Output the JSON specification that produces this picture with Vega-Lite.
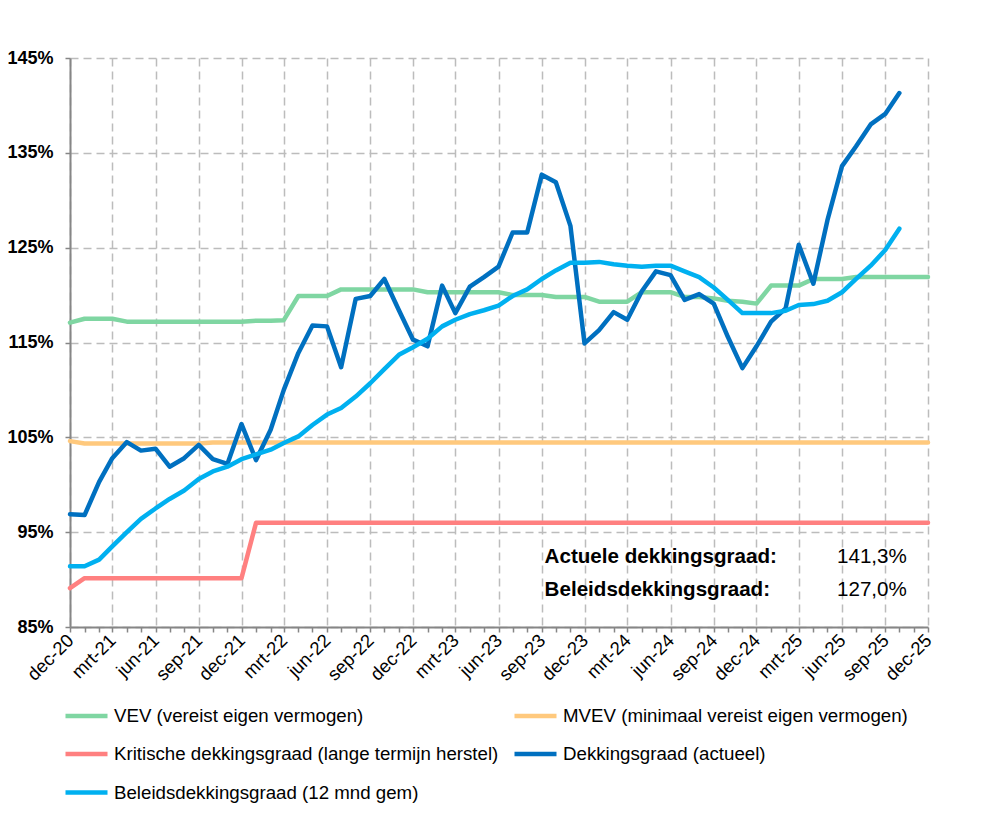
{
  "$schema": "https://vega.github.io/schema/vega-lite/v6.json",
  "width": 858,
  "height": 569,
  "autosize": {"type": "none"},
  "padding": {"left": 70, "top": 58, "right": 71, "bottom": 187},
  "background": "white",
  "config": {"font": "Liberation Sans", "view": {"stroke": null}},
  "datasets": {
    "reeksen": [
      {"maand": "2020-12-01", "VEV (vereist eigen vermogen)": 117.1, "MVEV (minimaal vereist eigen vermogen)": 104.6, "Kritische dekkingsgraad (lange termijn herstel)": 89.1, "Dekkingsgraad (actueel)": 96.9, "Beleidsdekkingsgraad (12 mnd gem)": 91.4},
      {"maand": "2021-01-01", "VEV (vereist eigen vermogen)": 117.5, "MVEV (minimaal vereist eigen vermogen)": 104.35, "Kritische dekkingsgraad (lange termijn herstel)": 90.15, "Dekkingsgraad (actueel)": 96.8, "Beleidsdekkingsgraad (12 mnd gem)": 91.4},
      {"maand": "2021-02-01", "VEV (vereist eigen vermogen)": 117.5, "MVEV (minimaal vereist eigen vermogen)": 104.35, "Kritische dekkingsgraad (lange termijn herstel)": 90.15, "Dekkingsgraad (actueel)": 100.3, "Beleidsdekkingsgraad (12 mnd gem)": 92.1},
      {"maand": "2021-03-01", "VEV (vereist eigen vermogen)": 117.5, "MVEV (minimaal vereist eigen vermogen)": 104.35, "Kritische dekkingsgraad (lange termijn herstel)": 90.15, "Dekkingsgraad (actueel)": 102.8, "Beleidsdekkingsgraad (12 mnd gem)": 93.5},
      {"maand": "2021-04-01", "VEV (vereist eigen vermogen)": 117.2, "MVEV (minimaal vereist eigen vermogen)": 104.35, "Kritische dekkingsgraad (lange termijn herstel)": 90.15, "Dekkingsgraad (actueel)": 104.5, "Beleidsdekkingsgraad (12 mnd gem)": 95.0},
      {"maand": "2021-05-01", "VEV (vereist eigen vermogen)": 117.2, "MVEV (minimaal vereist eigen vermogen)": 104.35, "Kritische dekkingsgraad (lange termijn herstel)": 90.15, "Dekkingsgraad (actueel)": 103.6, "Beleidsdekkingsgraad (12 mnd gem)": 96.4},
      {"maand": "2021-06-01", "VEV (vereist eigen vermogen)": 117.2, "MVEV (minimaal vereist eigen vermogen)": 104.35, "Kritische dekkingsgraad (lange termijn herstel)": 90.15, "Dekkingsgraad (actueel)": 103.8, "Beleidsdekkingsgraad (12 mnd gem)": 97.5},
      {"maand": "2021-07-01", "VEV (vereist eigen vermogen)": 117.2, "MVEV (minimaal vereist eigen vermogen)": 104.35, "Kritische dekkingsgraad (lange termijn herstel)": 90.15, "Dekkingsgraad (actueel)": 101.9, "Beleidsdekkingsgraad (12 mnd gem)": 98.5},
      {"maand": "2021-08-01", "VEV (vereist eigen vermogen)": 117.2, "MVEV (minimaal vereist eigen vermogen)": 104.35, "Kritische dekkingsgraad (lange termijn herstel)": 90.15, "Dekkingsgraad (actueel)": 102.8, "Beleidsdekkingsgraad (12 mnd gem)": 99.4},
      {"maand": "2021-09-01", "VEV (vereist eigen vermogen)": 117.2, "MVEV (minimaal vereist eigen vermogen)": 104.35, "Kritische dekkingsgraad (lange termijn herstel)": 90.15, "Dekkingsgraad (actueel)": 104.2, "Beleidsdekkingsgraad (12 mnd gem)": 100.6},
      {"maand": "2021-10-01", "VEV (vereist eigen vermogen)": 117.2, "MVEV (minimaal vereist eigen vermogen)": 104.45, "Kritische dekkingsgraad (lange termijn herstel)": 90.15, "Dekkingsgraad (actueel)": 102.7, "Beleidsdekkingsgraad (12 mnd gem)": 101.4},
      {"maand": "2021-11-01", "VEV (vereist eigen vermogen)": 117.2, "MVEV (minimaal vereist eigen vermogen)": 104.45, "Kritische dekkingsgraad (lange termijn herstel)": 90.15, "Dekkingsgraad (actueel)": 102.2, "Beleidsdekkingsgraad (12 mnd gem)": 101.9},
      {"maand": "2021-12-01", "VEV (vereist eigen vermogen)": 117.2, "MVEV (minimaal vereist eigen vermogen)": 104.45, "Kritische dekkingsgraad (lange termijn herstel)": 90.15, "Dekkingsgraad (actueel)": 106.4, "Beleidsdekkingsgraad (12 mnd gem)": 102.7},
      {"maand": "2022-01-01", "VEV (vereist eigen vermogen)": 117.3, "MVEV (minimaal vereist eigen vermogen)": 104.45, "Kritische dekkingsgraad (lange termijn herstel)": 96.0, "Dekkingsgraad (actueel)": 102.6, "Beleidsdekkingsgraad (12 mnd gem)": 103.2},
      {"maand": "2022-02-01", "VEV (vereist eigen vermogen)": 117.3, "MVEV (minimaal vereist eigen vermogen)": 104.45, "Kritische dekkingsgraad (lange termijn herstel)": 96.0, "Dekkingsgraad (actueel)": 105.8, "Beleidsdekkingsgraad (12 mnd gem)": 103.7},
      {"maand": "2022-03-01", "VEV (vereist eigen vermogen)": 117.35, "MVEV (minimaal vereist eigen vermogen)": 104.45, "Kritische dekkingsgraad (lange termijn herstel)": 96.0, "Dekkingsgraad (actueel)": 110.0, "Beleidsdekkingsgraad (12 mnd gem)": 104.4},
      {"maand": "2022-04-01", "VEV (vereist eigen vermogen)": 119.9, "MVEV (minimaal vereist eigen vermogen)": 104.45, "Kritische dekkingsgraad (lange termijn herstel)": 96.0, "Dekkingsgraad (actueel)": 113.9, "Beleidsdekkingsgraad (12 mnd gem)": 105.1},
      {"maand": "2022-05-01", "VEV (vereist eigen vermogen)": 119.9, "MVEV (minimaal vereist eigen vermogen)": 104.45, "Kritische dekkingsgraad (lange termijn herstel)": 96.0, "Dekkingsgraad (actueel)": 116.8, "Beleidsdekkingsgraad (12 mnd gem)": 106.3},
      {"maand": "2022-06-01", "VEV (vereist eigen vermogen)": 119.9, "MVEV (minimaal vereist eigen vermogen)": 104.45, "Kritische dekkingsgraad (lange termijn herstel)": 96.0, "Dekkingsgraad (actueel)": 116.7, "Beleidsdekkingsgraad (12 mnd gem)": 107.4},
      {"maand": "2022-07-01", "VEV (vereist eigen vermogen)": 120.6, "MVEV (minimaal vereist eigen vermogen)": 104.45, "Kritische dekkingsgraad (lange termijn herstel)": 96.0, "Dekkingsgraad (actueel)": 112.4, "Beleidsdekkingsgraad (12 mnd gem)": 108.1},
      {"maand": "2022-08-01", "VEV (vereist eigen vermogen)": 120.6, "MVEV (minimaal vereist eigen vermogen)": 104.45, "Kritische dekkingsgraad (lange termijn herstel)": 96.0, "Dekkingsgraad (actueel)": 119.6, "Beleidsdekkingsgraad (12 mnd gem)": 109.3},
      {"maand": "2022-09-01", "VEV (vereist eigen vermogen)": 120.6, "MVEV (minimaal vereist eigen vermogen)": 104.45, "Kritische dekkingsgraad (lange termijn herstel)": 96.0, "Dekkingsgraad (actueel)": 119.9, "Beleidsdekkingsgraad (12 mnd gem)": 110.7},
      {"maand": "2022-10-01", "VEV (vereist eigen vermogen)": 120.6, "MVEV (minimaal vereist eigen vermogen)": 104.45, "Kritische dekkingsgraad (lange termijn herstel)": 96.0, "Dekkingsgraad (actueel)": 121.7, "Beleidsdekkingsgraad (12 mnd gem)": 112.2},
      {"maand": "2022-11-01", "VEV (vereist eigen vermogen)": 120.6, "MVEV (minimaal vereist eigen vermogen)": 104.45, "Kritische dekkingsgraad (lange termijn herstel)": 96.0, "Dekkingsgraad (actueel)": 118.4, "Beleidsdekkingsgraad (12 mnd gem)": 113.7},
      {"maand": "2022-12-01", "VEV (vereist eigen vermogen)": 120.6, "MVEV (minimaal vereist eigen vermogen)": 104.45, "Kritische dekkingsgraad (lange termijn herstel)": 96.0, "Dekkingsgraad (actueel)": 115.3, "Beleidsdekkingsgraad (12 mnd gem)": 114.5},
      {"maand": "2023-01-01", "VEV (vereist eigen vermogen)": 120.3, "MVEV (minimaal vereist eigen vermogen)": 104.45, "Kritische dekkingsgraad (lange termijn herstel)": 96.0, "Dekkingsgraad (actueel)": 114.6, "Beleidsdekkingsgraad (12 mnd gem)": 115.4},
      {"maand": "2023-02-01", "VEV (vereist eigen vermogen)": 120.3, "MVEV (minimaal vereist eigen vermogen)": 104.45, "Kritische dekkingsgraad (lange termijn herstel)": 96.0, "Dekkingsgraad (actueel)": 121.0, "Beleidsdekkingsgraad (12 mnd gem)": 116.7},
      {"maand": "2023-03-01", "VEV (vereist eigen vermogen)": 120.3, "MVEV (minimaal vereist eigen vermogen)": 104.45, "Kritische dekkingsgraad (lange termijn herstel)": 96.0, "Dekkingsgraad (actueel)": 118.1, "Beleidsdekkingsgraad (12 mnd gem)": 117.4},
      {"maand": "2023-04-01", "VEV (vereist eigen vermogen)": 120.3, "MVEV (minimaal vereist eigen vermogen)": 104.45, "Kritische dekkingsgraad (lange termijn herstel)": 96.0, "Dekkingsgraad (actueel)": 120.9, "Beleidsdekkingsgraad (12 mnd gem)": 118.0},
      {"maand": "2023-05-01", "VEV (vereist eigen vermogen)": 120.3, "MVEV (minimaal vereist eigen vermogen)": 104.45, "Kritische dekkingsgraad (lange termijn herstel)": 96.0, "Dekkingsgraad (actueel)": 121.9, "Beleidsdekkingsgraad (12 mnd gem)": 118.4},
      {"maand": "2023-06-01", "VEV (vereist eigen vermogen)": 120.3, "MVEV (minimaal vereist eigen vermogen)": 104.45, "Kritische dekkingsgraad (lange termijn herstel)": 96.0, "Dekkingsgraad (actueel)": 123.0, "Beleidsdekkingsgraad (12 mnd gem)": 118.9},
      {"maand": "2023-07-01", "VEV (vereist eigen vermogen)": 120.0, "MVEV (minimaal vereist eigen vermogen)": 104.45, "Kritische dekkingsgraad (lange termijn herstel)": 96.0, "Dekkingsgraad (actueel)": 126.6, "Beleidsdekkingsgraad (12 mnd gem)": 119.9},
      {"maand": "2023-08-01", "VEV (vereist eigen vermogen)": 120.0, "MVEV (minimaal vereist eigen vermogen)": 104.45, "Kritische dekkingsgraad (lange termijn herstel)": 96.0, "Dekkingsgraad (actueel)": 126.6, "Beleidsdekkingsgraad (12 mnd gem)": 120.6},
      {"maand": "2023-09-01", "VEV (vereist eigen vermogen)": 120.0, "MVEV (minimaal vereist eigen vermogen)": 104.45, "Kritische dekkingsgraad (lange termijn herstel)": 96.0, "Dekkingsgraad (actueel)": 132.7, "Beleidsdekkingsgraad (12 mnd gem)": 121.7},
      {"maand": "2023-10-01", "VEV (vereist eigen vermogen)": 119.8, "MVEV (minimaal vereist eigen vermogen)": 104.45, "Kritische dekkingsgraad (lange termijn herstel)": 96.0, "Dekkingsgraad (actueel)": 131.9, "Beleidsdekkingsgraad (12 mnd gem)": 122.6},
      {"maand": "2023-11-01", "VEV (vereist eigen vermogen)": 119.8, "MVEV (minimaal vereist eigen vermogen)": 104.45, "Kritische dekkingsgraad (lange termijn herstel)": 96.0, "Dekkingsgraad (actueel)": 127.3, "Beleidsdekkingsgraad (12 mnd gem)": 123.4},
      {"maand": "2023-12-01", "VEV (vereist eigen vermogen)": 119.8, "MVEV (minimaal vereist eigen vermogen)": 104.45, "Kritische dekkingsgraad (lange termijn herstel)": 96.0, "Dekkingsgraad (actueel)": 114.9, "Beleidsdekkingsgraad (12 mnd gem)": 123.4},
      {"maand": "2024-01-01", "VEV (vereist eigen vermogen)": 119.3, "MVEV (minimaal vereist eigen vermogen)": 104.45, "Kritische dekkingsgraad (lange termijn herstel)": 96.0, "Dekkingsgraad (actueel)": 116.3, "Beleidsdekkingsgraad (12 mnd gem)": 123.5},
      {"maand": "2024-02-01", "VEV (vereist eigen vermogen)": 119.3, "MVEV (minimaal vereist eigen vermogen)": 104.45, "Kritische dekkingsgraad (lange termijn herstel)": 96.0, "Dekkingsgraad (actueel)": 118.2, "Beleidsdekkingsgraad (12 mnd gem)": 123.25},
      {"maand": "2024-03-01", "VEV (vereist eigen vermogen)": 119.3, "MVEV (minimaal vereist eigen vermogen)": 104.45, "Kritische dekkingsgraad (lange termijn herstel)": 96.0, "Dekkingsgraad (actueel)": 117.4, "Beleidsdekkingsgraad (12 mnd gem)": 123.1},
      {"maand": "2024-04-01", "VEV (vereist eigen vermogen)": 120.3, "MVEV (minimaal vereist eigen vermogen)": 104.45, "Kritische dekkingsgraad (lange termijn herstel)": 96.0, "Dekkingsgraad (actueel)": 120.4, "Beleidsdekkingsgraad (12 mnd gem)": 123.0},
      {"maand": "2024-05-01", "VEV (vereist eigen vermogen)": 120.3, "MVEV (minimaal vereist eigen vermogen)": 104.45, "Kritische dekkingsgraad (lange termijn herstel)": 96.0, "Dekkingsgraad (actueel)": 122.5, "Beleidsdekkingsgraad (12 mnd gem)": 123.1},
      {"maand": "2024-06-01", "VEV (vereist eigen vermogen)": 120.3, "MVEV (minimaal vereist eigen vermogen)": 104.45, "Kritische dekkingsgraad (lange termijn herstel)": 96.0, "Dekkingsgraad (actueel)": 122.1, "Beleidsdekkingsgraad (12 mnd gem)": 123.1},
      {"maand": "2024-07-01", "VEV (vereist eigen vermogen)": 119.8, "MVEV (minimaal vereist eigen vermogen)": 104.45, "Kritische dekkingsgraad (lange termijn herstel)": 96.0, "Dekkingsgraad (actueel)": 119.5, "Beleidsdekkingsgraad (12 mnd gem)": 122.5},
      {"maand": "2024-08-01", "VEV (vereist eigen vermogen)": 119.8, "MVEV (minimaal vereist eigen vermogen)": 104.45, "Kritische dekkingsgraad (lange termijn herstel)": 96.0, "Dekkingsgraad (actueel)": 120.1, "Beleidsdekkingsgraad (12 mnd gem)": 121.9},
      {"maand": "2024-09-01", "VEV (vereist eigen vermogen)": 119.65, "MVEV (minimaal vereist eigen vermogen)": 104.45, "Kritische dekkingsgraad (lange termijn herstel)": 96.0, "Dekkingsgraad (actueel)": 119.1, "Beleidsdekkingsgraad (12 mnd gem)": 120.8},
      {"maand": "2024-10-01", "VEV (vereist eigen vermogen)": 119.4, "MVEV (minimaal vereist eigen vermogen)": 104.45, "Kritische dekkingsgraad (lange termijn herstel)": 96.0, "Dekkingsgraad (actueel)": 115.6, "Beleidsdekkingsgraad (12 mnd gem)": 119.5},
      {"maand": "2024-11-01", "VEV (vereist eigen vermogen)": 119.3, "MVEV (minimaal vereist eigen vermogen)": 104.45, "Kritische dekkingsgraad (lange termijn herstel)": 96.0, "Dekkingsgraad (actueel)": 112.3, "Beleidsdekkingsgraad (12 mnd gem)": 118.1},
      {"maand": "2024-12-01", "VEV (vereist eigen vermogen)": 119.1, "MVEV (minimaal vereist eigen vermogen)": 104.45, "Kritische dekkingsgraad (lange termijn herstel)": 96.0, "Dekkingsgraad (actueel)": 114.6, "Beleidsdekkingsgraad (12 mnd gem)": 118.1},
      {"maand": "2025-01-01", "VEV (vereist eigen vermogen)": 121.0, "MVEV (minimaal vereist eigen vermogen)": 104.45, "Kritische dekkingsgraad (lange termijn herstel)": 96.0, "Dekkingsgraad (actueel)": 117.2, "Beleidsdekkingsgraad (12 mnd gem)": 118.1},
      {"maand": "2025-02-01", "VEV (vereist eigen vermogen)": 121.0, "MVEV (minimaal vereist eigen vermogen)": 104.45, "Kritische dekkingsgraad (lange termijn herstel)": 96.0, "Dekkingsgraad (actueel)": 118.6, "Beleidsdekkingsgraad (12 mnd gem)": 118.35},
      {"maand": "2025-03-01", "VEV (vereist eigen vermogen)": 121.0, "MVEV (minimaal vereist eigen vermogen)": 104.45, "Kritische dekkingsgraad (lange termijn herstel)": 96.0, "Dekkingsgraad (actueel)": 125.3, "Beleidsdekkingsgraad (12 mnd gem)": 118.95},
      {"maand": "2025-04-01", "VEV (vereist eigen vermogen)": 121.7, "MVEV (minimaal vereist eigen vermogen)": 104.45, "Kritische dekkingsgraad (lange termijn herstel)": 96.0, "Dekkingsgraad (actueel)": 121.2, "Beleidsdekkingsgraad (12 mnd gem)": 119.05},
      {"maand": "2025-05-01", "VEV (vereist eigen vermogen)": 121.7, "MVEV (minimaal vereist eigen vermogen)": 104.45, "Kritische dekkingsgraad (lange termijn herstel)": 96.0, "Dekkingsgraad (actueel)": 127.9, "Beleidsdekkingsgraad (12 mnd gem)": 119.4},
      {"maand": "2025-06-01", "VEV (vereist eigen vermogen)": 121.7, "MVEV (minimaal vereist eigen vermogen)": 104.45, "Kritische dekkingsgraad (lange termijn herstel)": 96.0, "Dekkingsgraad (actueel)": 133.6, "Beleidsdekkingsgraad (12 mnd gem)": 120.3},
      {"maand": "2025-07-01", "VEV (vereist eigen vermogen)": 121.9, "MVEV (minimaal vereist eigen vermogen)": 104.45, "Kritische dekkingsgraad (lange termijn herstel)": 96.0, "Dekkingsgraad (actueel)": 135.7, "Beleidsdekkingsgraad (12 mnd gem)": 121.7},
      {"maand": "2025-08-01", "VEV (vereist eigen vermogen)": 121.9, "MVEV (minimaal vereist eigen vermogen)": 104.45, "Kritische dekkingsgraad (lange termijn herstel)": 96.0, "Dekkingsgraad (actueel)": 138.0, "Beleidsdekkingsgraad (12 mnd gem)": 123.1},
      {"maand": "2025-09-01", "VEV (vereist eigen vermogen)": 121.9, "MVEV (minimaal vereist eigen vermogen)": 104.45, "Kritische dekkingsgraad (lange termijn herstel)": 96.0, "Dekkingsgraad (actueel)": 139.1, "Beleidsdekkingsgraad (12 mnd gem)": 124.75},
      {"maand": "2025-10-01", "VEV (vereist eigen vermogen)": 121.9, "MVEV (minimaal vereist eigen vermogen)": 104.45, "Kritische dekkingsgraad (lange termijn herstel)": 96.0, "Dekkingsgraad (actueel)": 141.3, "Beleidsdekkingsgraad (12 mnd gem)": 127.0},
      {"maand": "2025-11-01", "VEV (vereist eigen vermogen)": 121.9, "MVEV (minimaal vereist eigen vermogen)": 104.45, "Kritische dekkingsgraad (lange termijn herstel)": 96.0},
      {"maand": "2025-12-01", "VEV (vereist eigen vermogen)": 121.9, "MVEV (minimaal vereist eigen vermogen)": 104.45, "Kritische dekkingsgraad (lange termijn herstel)": 96.0}
    ],
    "labels": [
      {"maand": "2023-09-07", "waarde": 92.38, "tekst": "Actuele dekkingsgraad:"},
      {"maand": "2023-09-07", "waarde": 88.9, "tekst": "Beleidsdekkingsgraad:"}
    ],
    "waarden": [
      {"maand": "2025-10-17", "waarde": 92.38, "tekst": "141,3%"},
      {"maand": "2025-10-17", "waarde": 88.9, "tekst": "127,0%"}
    ]
  },
  "layer": [
    {
      "data": {"name": "reeksen"},
      "transform": [
        {"fold": ["VEV (vereist eigen vermogen)", "MVEV (minimaal vereist eigen vermogen)", "Kritische dekkingsgraad (lange termijn herstel)", "Dekkingsgraad (actueel)", "Beleidsdekkingsgraad (12 mnd gem)"], "as": ["reeks", "waarde"]},
        {"filter": "isValid(datum.waarde)"}
      ],
      "mark": {"type": "line", "strokeWidth": 4.5, "strokeJoin": "round", "strokeCap": "round"},
      "encoding": {
        "x": {
          "field": "maand", "type": "temporal",
          "scale": {"type": "utc", "domain": [{"year": 2020, "month": 12, "date": 1, "utc": true}, {"year": 2025, "month": 12, "date": 1, "utc": true}], "nice": false},
          "axis": {
            "title": null,
            "tickCount": {"interval": "month", "step": 1},
            "labelExpr": "utcmonth(datum.value) % 3 == 2 ? ['jan','feb','mrt','apr','mei','jun','jul','aug','sep','okt','nov','dec'][utcmonth(datum.value)] + '-' + utcFormat(datum.value, '%y') : ''",
            "labelAngle": -45,
            "labelAlign": "right",
            "labelBaseline": "middle",
            "labelFontSize": 18.5,
            "labelColor": "#000000",
            "labelOverlap": false,
            "labelPadding": 5,
            "labelFlush": false,
            "grid": true,
            "gridColor": "#bcbcbc",
            "gridDash": [8, 5],
            "gridWidth": 1.5,
            "gridOpacity": {"condition": {"test": "utcmonth(datum.value) % 3 == 2", "value": 1}, "value": 0},
            "domainColor": "#868686",
            "domainWidth": 2,
            "tickColor": "#868686",
            "tickWidth": 1.5,
            "tickSize": 5
          }
        },
        "y": {
          "field": "waarde", "type": "quantitative",
          "scale": {"domain": [85, 145], "nice": false, "zero": false},
          "axis": {
            "title": null,
            "values": [85, 95, 105, 115, 125, 135, 145],
            "labelExpr": "datum.value + '%'",
            "labelFontSize": 18,
            "labelFontWeight": "bold",
            "labelColor": "#000000",
            "labelPadding": 12,
            "grid": true,
            "gridColor": "#bcbcbc",
            "gridDash": [8, 5],
            "gridWidth": 1.5,
            "domainColor": "#868686",
            "domainWidth": 2,
            "tickColor": "#868686",
            "tickWidth": 1.5,
            "tickSize": 5
          }
        },
        "color": {
          "field": "reeks", "type": "nominal",
          "scale": {
            "domain": ["VEV (vereist eigen vermogen)", "MVEV (minimaal vereist eigen vermogen)", "Kritische dekkingsgraad (lange termijn herstel)", "Dekkingsgraad (actueel)", "Beleidsdekkingsgraad (12 mnd gem)"],
            "range": ["#7fd6a2", "#ffc97d", "#ff8080", "#0070c0", "#00b0f0"]
          },
          "legend": {
            "title": null,
            "orient": "none",
            "direction": "horizontal",
            "legendX": -7,
            "legendY": 634,
            "columns": 2,
            "symbolType": "stroke",
            "symbolSize": 1764,
            "symbolStrokeWidth": 4.5,
            "labelFontSize": 18.7,
            "labelColor": "#000000",
            "labelLimit": 0,
            "labelOffset": 4,
            "columnPadding": 6,
            "rowPadding": 4.5
          }
        }
      }
    },
    {
      "data": {"name": "labels"},
      "mark": {"type": "text", "align": "left", "baseline": "middle", "fontSize": 20.6, "fontWeight": "bold", "color": "#000000"},
      "encoding": {
        "x": {"field": "maand", "type": "temporal"},
        "y": {"field": "waarde", "type": "quantitative"},
        "text": {"field": "tekst"}
      }
    },
    {
      "data": {"name": "waarden"},
      "mark": {"type": "text", "align": "right", "baseline": "middle", "fontSize": 20.6, "color": "#000000"},
      "encoding": {
        "x": {"field": "maand", "type": "temporal"},
        "y": {"field": "waarde", "type": "quantitative"},
        "text": {"field": "tekst"}
      }
    }
  ]
}
